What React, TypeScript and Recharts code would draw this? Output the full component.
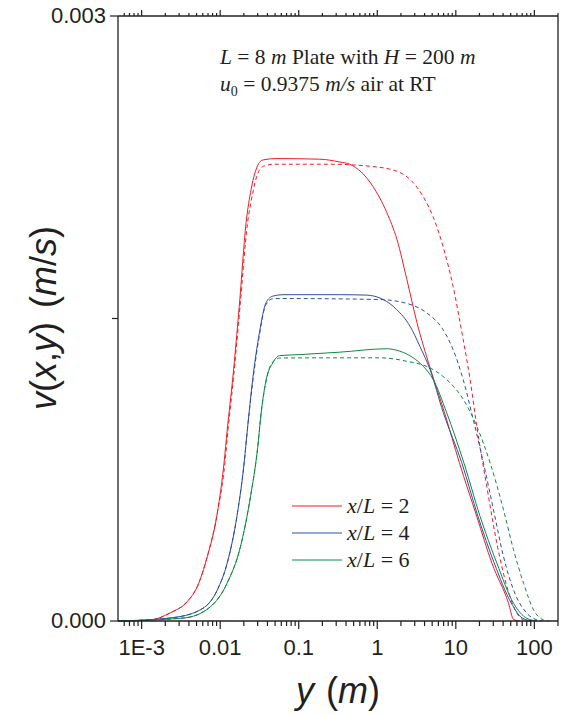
import React from 'react';
import { LineChart, Line, XAxis, YAxis } from 'recharts';

// ---- data (y in m, v in m/s) ----
const red2SolidY = [0.0005, 0.00128, 0.00233, 0.0038, 0.0051, 0.00685, 0.0092, 0.0112, 0.0123, 0.0144, 0.0175, 0.0214, 0.0248, 0.0287, 0.0348, 0.0516, 0.185, 0.333, 0.446, 0.877, 1.32, 1.78, 2.38, 3.2, 4.69, 7.18, 11.1, 18.5, 28.8, 46.9, 54.3, 66.1];
const red2SolidV = [0, 0.005e-3, 0.041e-3, 0.096e-3, 0.17e-3, 0.319e-3, 0.536e-3, 0.785e-3, 0.949e-3, 1.197e-3, 1.561e-3, 1.977e-3, 2.141e-3, 2.24e-3, 2.286e-3, 2.293e-3, 2.29e-3, 2.276e-3, 2.265e-3, 2.156e-3, 2.026e-3, 1.892e-3, 1.694e-3, 1.48e-3, 1.257e-3, 1.033e-3, 0.785e-3, 0.518e-3, 0.287e-3, 0.088e-3, 0.008e-3, 0];

const red2DashY = [0.0005, 0.00128, 0.00233, 0.0038, 0.0051, 0.00685, 0.0092, 0.0115, 0.0126, 0.0147, 0.0179, 0.0222, 0.0258, 0.0298, 0.0356, 0.0491, 0.248, 0.804, 1.78, 2.61, 3.82, 5.12, 6.87, 9.23, 12.4, 15.2, 18.5, 24.8, 33.3, 44.8, 60.0, 72.9, 89.1];
const red2DashV = [0, 0.005e-3, 0.041e-3, 0.096e-3, 0.17e-3, 0.319e-3, 0.536e-3, 0.785e-3, 0.949e-3, 1.197e-3, 1.561e-3, 1.967e-3, 2.116e-3, 2.215e-3, 2.255e-3, 2.265e-3, 2.265e-3, 2.255e-3, 2.23e-3, 2.19e-3, 2.106e-3, 2.006e-3, 1.858e-3, 1.659e-3, 1.396e-3, 1.197e-3, 0.965e-3, 0.667e-3, 0.386e-3, 0.17e-3, 0.038e-3, 0.005e-3, 0];

const blue4SolidY = [0.0005, 0.00231, 0.00557, 0.0092, 0.0123, 0.0166, 0.0202, 0.0222, 0.0259, 0.0316, 0.0385, 0.0468, 0.0628, 0.333, 0.729, 1.19, 1.76, 2.61, 3.49, 4.69, 6.93, 11.9, 19.2, 30.8, 50.8, 70.1, 94.2];
const blue4SolidV = [0, 0.015e-3, 0.055e-3, 0.154e-3, 0.288e-3, 0.536e-3, 0.785e-3, 0.949e-3, 1.197e-3, 1.43e-3, 1.58e-3, 1.611e-3, 1.618e-3, 1.618e-3, 1.616e-3, 1.594e-3, 1.545e-3, 1.462e-3, 1.362e-3, 1.247e-3, 1.033e-3, 0.785e-3, 0.517e-3, 0.288e-3, 0.089e-3, 0.015e-3, 0];

const blue4DashY = [0.0005, 0.00231, 0.00557, 0.0092, 0.0123, 0.0166, 0.0202, 0.0222, 0.0262, 0.032, 0.0378, 0.0468, 0.0622, 1.08, 2.61, 4.26, 6.87, 9.23, 12.4, 16.7, 22.5, 30.2, 40.5, 54.3, 80.5, 108, 126];
const blue4DashV = [0, 0.015e-3, 0.055e-3, 0.154e-3, 0.288e-3, 0.536e-3, 0.785e-3, 0.949e-3, 1.197e-3, 1.43e-3, 1.565e-3, 1.598e-3, 1.599e-3, 1.594e-3, 1.57e-3, 1.528e-3, 1.445e-3, 1.346e-3, 1.197e-3, 0.998e-3, 0.783e-3, 0.551e-3, 0.319e-3, 0.154e-3, 0.038e-3, 0.005e-3, 0];

const green6SolidY = [0.0005, 0.00345, 0.00748, 0.0123, 0.0181, 0.0243, 0.0298, 0.0336, 0.0385, 0.0468, 0.0569, 0.103, 0.333, 1.31, 1.94, 2.87, 3.85, 5.16, 7.66, 12.7, 20.4, 33.3, 54.3, 80.5, 108];
const green6SolidV = [0, 0.015e-3, 0.07e-3, 0.189e-3, 0.368e-3, 0.616e-3, 0.849e-3, 1.048e-3, 1.197e-3, 1.28e-3, 1.316e-3, 1.321e-3, 1.333e-3, 1.35e-3, 1.338e-3, 1.305e-3, 1.263e-3, 1.197e-3, 1.032e-3, 0.783e-3, 0.518e-3, 0.287e-3, 0.088e-3, 0.013e-3, 0];

const green6DashY = [0.0005, 0.00345, 0.00748, 0.0123, 0.0181, 0.0243, 0.0298, 0.0336, 0.0388, 0.045, 0.0569, 0.248, 1.08, 2.37, 4.69, 7.66, 12.5, 18.5, 27.4, 40.5, 54.3, 72.9, 97.7, 131, 151];
const green6DashV = [0, 0.015e-3, 0.07e-3, 0.189e-3, 0.368e-3, 0.616e-3, 0.849e-3, 1.048e-3, 1.197e-3, 1.277e-3, 1.304e-3, 1.305e-3, 1.305e-3, 1.288e-3, 1.255e-3, 1.197e-3, 1.098e-3, 0.965e-3, 0.783e-3, 0.551e-3, 0.353e-3, 0.187e-3, 0.055e-3, 0.005e-3, 0];

const legendLabels = ['2', '4', '6'];

// ---- ticks ----
const xMajorTicks = [0.001, 0.01, 0.1, 1, 10, 100];
const xTickLabels = ['1E-3', '0.01', '0.1', '1', '10', '100'];
const xMinorTicks = [
  0.0006, 0.0007, 0.0008, 0.0009,
  0.002, 0.003, 0.004, 0.005, 0.006, 0.007, 0.008, 0.009,
  0.02, 0.03, 0.04, 0.05, 0.06, 0.07, 0.08, 0.09,
  0.2, 0.3, 0.4, 0.5, 0.6, 0.7, 0.8, 0.9,
  2, 3, 4, 5, 6, 7, 8, 9,
  20, 30, 40, 50, 60, 70, 80, 90, 200,
];
const yTicks = [0, 0.0015, 0.003];
const yTickLabels = ['0.000', '', '0.003'];

const COLORS = { red: '#ee1c25', blue: '#2f4fa3', green: '#0e8a45' };
const AXIS = '#231f20';
const SANS = '"Liberation Sans", Arial, sans-serif';
const SERIF = '"Liberation Serif", "Times New Roman", serif';

const toData = (ys: number[], vs: number[]) => ys.map((p, i) => ({ pos: p, vel: vs[i] }));

const series = [
  { key: 'r-s', data: toData(red2SolidY, red2SolidV), color: COLORS.red, dash: undefined },
  { key: 'r-d', data: toData(red2DashY, red2DashV), color: COLORS.red, dash: '4 3' },
  { key: 'b-s', data: toData(blue4SolidY, blue4SolidV), color: COLORS.blue, dash: undefined },
  { key: 'b-d', data: toData(blue4DashY, blue4DashV), color: COLORS.blue, dash: '4 3' },
  { key: 'g-s', data: toData(green6SolidY, green6SolidV), color: COLORS.green, dash: undefined },
  { key: 'g-d', data: toData(green6DashY, green6DashV), color: COLORS.green, dash: '4 3' },
];
const legendColors = [COLORS.red, COLORS.blue, COLORS.green];

const allXTicks = [...xMajorTicks, ...xMinorTicks].sort((a, b) => a - b);
const majorIndex = (v: number) => xMajorTicks.findIndex((t) => Math.abs(t - v) / t < 1e-6);

const BottomTick = (props: any) => {
  const { x, y, payload } = props;
  const idx = majorIndex(payload.value);
  const major = idx >= 0;
  return (
    <g>
      <line x1={x} x2={x} y1={y} y2={y + (major ? 8 : 5)} stroke={AXIS} strokeWidth={1.2} />
      {major && (
        <text x={x} y={y + 34} textAnchor="middle" fontSize={22} fontFamily={SANS} fill={AXIS}>
          {xTickLabels[idx]}
        </text>
      )}
    </g>
  );
};

const TopTick = (props: any) => {
  const { x, y, payload } = props;
  const major = majorIndex(payload.value) >= 0;
  return <line x1={x} x2={x} y1={y} y2={y - (major ? 6 : 3)} stroke={AXIS} strokeWidth={1.2} />;
};

const LeftTick = (props: any) => {
  const { x, y, payload } = props;
  const i = yTicks.indexOf(payload.value);
  const label = i >= 0 ? yTickLabels[i] : '';
  return (
    <g>
      <line x1={x} x2={x - (label ? 8 : 6)} y1={y} y2={y} stroke={AXIS} strokeWidth={1.2} />
      {label && (
        <text x={x - 12} y={y + 7} textAnchor="end" fontSize={22} fontFamily={SANS} fill={AXIS}>
          {label}
        </text>
      )}
    </g>
  );
};

const RightTick = (props: any) => {
  const { x, y } = props;
  return <line x1={x} x2={x + 6} y1={y} y2={y} stroke={AXIS} strokeWidth={1.2} />;
};

export default function App() {
  return (
    <div style={{ position: 'absolute', left: 0, top: 0, width: 569, height: 715, background: '#fff' }}>
      <LineChart width={569} height={715} margin={{ top: 0, right: 0, bottom: 0, left: 0 }}>
        <XAxis
          xAxisId="bottom"
          dataKey="pos"
          type="number"
          scale="log"
          domain={[0.0005, 200]}
          allowDataOverflow
          ticks={allXTicks}
          interval={0}
          height={94}
          tickSize={0}
          tickMargin={0}
          tick={<BottomTick />}
          tickLine={false}
          axisLine={{ stroke: AXIS, strokeWidth: 1.3 }}
        />
        <XAxis
          xAxisId="top"
          orientation="top"
          dataKey="pos"
          type="number"
          scale="log"
          domain={[0.0005, 200]}
          allowDataOverflow
          ticks={allXTicks}
          interval={0}
          height={16}
          tickSize={0}
          tickMargin={0}
          tick={<TopTick />}
          tickLine={false}
          axisLine={{ stroke: AXIS, strokeWidth: 1.3 }}
        />
        <YAxis
          yAxisId="left"
          type="number"
          domain={[0, 0.003]}
          ticks={yTicks}
          interval={0}
          width={118}
          tickSize={0}
          tickMargin={0}
          tick={<LeftTick />}
          tickLine={false}
          axisLine={{ stroke: AXIS, strokeWidth: 1.3 }}
        />
        <YAxis
          yAxisId="right"
          orientation="right"
          type="number"
          domain={[0, 0.003]}
          ticks={yTicks}
          interval={0}
          width={11}
          tickSize={0}
          tickMargin={0}
          tick={<RightTick />}
          tickLine={false}
          axisLine={{ stroke: AXIS, strokeWidth: 1.3 }}
        />
        {series.map((s) => (
          <Line
            key={s.key}
            xAxisId="bottom"
            yAxisId="left"
            data={s.data}
            dataKey="vel"
            type="monotone"
            stroke={s.color}
            strokeWidth={1}
            strokeDasharray={s.dash}
            dot={false}
            activeDot={false}
            isAnimationActive={false}
          />
        ))}
      </LineChart>
      <svg
        width={569}
        height={715}
        style={{ position: 'absolute', left: 0, top: 0, pointerEvents: 'none' }}
      >
        <text x={220} y={64} fontSize={21.5} fontFamily={SERIF} fill={AXIS}>
          <tspan fontStyle="italic">L</tspan>
          <tspan> = 8 </tspan>
          <tspan fontStyle="italic">m</tspan>
          <tspan> Plate with </tspan>
          <tspan fontStyle="italic">H</tspan>
          <tspan> = 200 </tspan>
          <tspan fontStyle="italic">m</tspan>
        </text>
        <text x={220} y={91} fontSize={21.5} fontFamily={SERIF} fill={AXIS}>
          <tspan fontStyle="italic">u</tspan>
          <tspan fontSize={14} dy={5}>0</tspan>
          <tspan dy={-5}> = 0.9375 </tspan>
          <tspan fontStyle="italic">m/s</tspan>
          <tspan> air at RT</tspan>
        </text>
        {legendLabels.map((lab, i) => (
          <g key={lab}>
            <line x1={292} x2={342} y1={506 + i * 27} y2={506 + i * 27} stroke={legendColors[i]} strokeWidth={1} />
            <text x={347} y={513 + i * 27} fontSize={22} fontFamily={SERIF} fill={AXIS}>
              <tspan fontStyle="italic">x</tspan>
              <tspan>/</tspan>
              <tspan fontStyle="italic">L</tspan>
              <tspan> = {lab}</tspan>
            </text>
          </g>
        ))}
        <text x={338} y={703} textAnchor="middle" fontSize={36} fontFamily={SANS} fill={AXIS}>
          <tspan fontStyle="italic">y</tspan>
          <tspan dx={12}>(</tspan>
          <tspan fontStyle="italic">m</tspan>
          <tspan>)</tspan>
        </text>
        <text
          transform="translate(56,318) rotate(-90)"
          x={0}
          y={0}
          textAnchor="middle"
          fontSize={36}
          fontFamily={SANS}
          fill={AXIS}
        >
          <tspan fontStyle="italic">v</tspan>
          <tspan>(</tspan>
          <tspan fontStyle="italic">x</tspan>
          <tspan>,</tspan>
          <tspan fontStyle="italic">y</tspan>
          <tspan>)</tspan>
          <tspan dx={14}>(</tspan>
          <tspan fontStyle="italic">m</tspan>
          <tspan>/</tspan>
          <tspan fontStyle="italic">s</tspan>
          <tspan>)</tspan>
        </text>
      </svg>
    </div>
  );
}
